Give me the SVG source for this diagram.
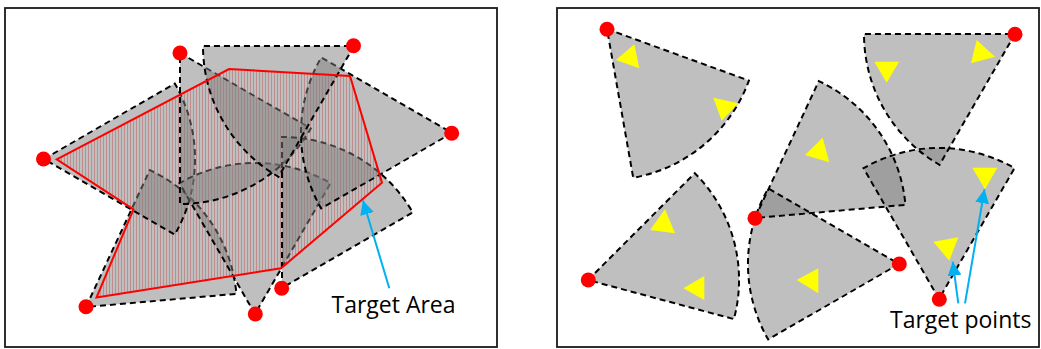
<svg xmlns="http://www.w3.org/2000/svg" width="1041" height="349" viewBox="0 0 1041 349">
<style>
.frame{fill:#fff;stroke:#1a1a1a;stroke-width:1.8}
.sec{fill:#7f7f7f;fill-opacity:0.5;stroke:#000;stroke-width:2;stroke-dasharray:6 4}
.fill{fill:#7f7f7f;fill-opacity:0.5;stroke:none}
.out{fill:none;stroke:#000;stroke-width:2;stroke-dasharray:6 4}
.dot{fill:#ff0000}
.tri{fill:#ffff00}
.arrow{fill:none;stroke:#00b0f0;stroke-width:2}
.lbl{font-family:"Open Sans","Noto Sans",sans-serif;font-size:23px;fill:#000}
</style>
<defs>
<pattern id="hatch" patternUnits="userSpaceOnUse" width="3" height="10">
<rect x="0" y="0" width="3" height="10" fill="#ffffff"/>
<rect x="1" y="0" width="1" height="10" fill="#ff9a9a"/>
</pattern>
<marker id="ah" markerUnits="userSpaceOnUse" markerWidth="16" markerHeight="14" refX="14" refY="7" orient="auto">
<path d="M0,0 L14,7 L0,14 Z" fill="#00b0f0"/>
</marker>
</defs>
<rect class="frame" x="5" y="8" width="492" height="339"/>
<rect class="frame" x="557" y="8" width="482" height="339"/>

<!-- left panel -->
<polygon id="target-area-fill" points="56.7,159.3 229,69 350,76 382,182.7 281,268.3 96.5,297.5 133.5,209.3" fill="url(#hatch)"/>
<g id="sector-E"><path class="sec" d="M86,307 L149.8,170.1 A151,151 0 0 1 236.4,293.8 Z"/></g>
<g id="sector-D"><path class="sec" d="M44,159 L174.8,83.5 A151,151 0 0 1 174.8,234.5 Z"/></g>
<g id="sector-F"><path class="sec" d="M255,314 L179.5,183.2 A151,151 0 0 1 330.5,183.2 Z"/></g>
<g id="sector-A"><path class="sec" d="M180,53 L310.8,128.5 A151,151 0 0 1 180,204 Z"/></g>
<g id="sector-G"><path class="sec" d="M282,288 L282,137 A151,151 0 0 1 412.8,212.5 Z"/></g>
<g id="sector-C"><path class="sec" d="M452,133 L321.2,208.5 A151,151 0 0 1 321.2,57.5 Z"/></g>
<g id="sector-B"><path class="sec" d="M354,46 L278.5,176.8 A151,151 0 0 1 203,46 Z"/></g>
<g id="target-area"><polygon points="56.7,159.3 229,69 350,76 382,182.7 281,268.3 96.5,297.5 133.5,209.3" fill="none" stroke="#ff0000" stroke-width="2" stroke-linejoin="miter"/></g>
<g id="left-dots">
<circle class="dot" cx="180" cy="53" r="7.5"/>
<circle class="dot" cx="353.5" cy="45.7" r="7.5"/>
<circle class="dot" cx="451.7" cy="133.3" r="7.5"/>
<circle class="dot" cx="43.5" cy="159" r="7.5"/>
<circle class="dot" cx="86" cy="306.7" r="7.5"/>
<circle class="dot" cx="255.3" cy="314" r="7.5"/>
<circle class="dot" cx="281.7" cy="288.3" r="7.5"/>
</g>

<!-- right panel -->
<g id="sector-R1"><path class="fill" d="M607,29 L748.9,80.6 A151,151 0 0 1 633.2,177.7 Z"/></g>
<g id="sector-R2"><path class="fill" d="M1015,34 L939.5,164.8 A151,151 0 0 1 864,34 Z"/></g>
<g id="sector-R4"><path class="fill" d="M588,280 L694.8,173.2 A151,151 0 0 1 733.9,319.1 Z"/></g>
<g id="sector-R3"><path class="fill" d="M899,264 L768.2,339.5 A151,151 0 0 1 768.2,188.5 Z"/></g>
<g id="sector-R5"><path class="fill" d="M755,218 L818.8,81.1 A151,151 0 0 1 905.4,204.8 Z"/></g>
<g id="sector-R6"><path class="fill" d="M939,299 L863.5,168.2 A151,151 0 0 1 1014.5,168.2 Z"/></g>
<g id="right-outlines">
<path class="out" d="M607,29 L748.9,80.6 A151,151 0 0 1 633.2,177.7 Z"/>
<path class="out" d="M1015,34 L939.5,164.8 A151,151 0 0 1 864,34 Z"/>
<path class="out" d="M588,280 L694.8,173.2 A151,151 0 0 1 733.9,319.1 Z"/>
<path class="out" d="M899,264 L768.2,339.5 A151,151 0 0 1 768.2,188.5 Z"/>
<path class="out" d="M755,218 L818.8,81.1 A151,151 0 0 1 905.4,204.8 Z"/>
<path class="out" d="M939,299 L863.5,168.2 A151,151 0 0 1 1014.5,168.2 Z"/>
</g>
<g id="targets">
<polygon class="tri" points="634.3,44.3 616,60 639.3,68.3"/>
<polygon class="tri" points="713.3,97.7 738.3,103.3 721.7,120.7"/>
<polygon class="tri" points="874.3,61.7 899,61.7 886.7,82.7"/>
<polygon class="tri" points="976.7,40 995,56.7 971,63.3"/>
<polygon class="tri" points="665,209.3 650,230 675,233.3"/>
<polygon class="tri" points="704.3,276 704.3,300 683.3,288.3"/>
<polygon class="tri" points="818.3,268.3 818.3,293.3 796.7,280"/>
<polygon class="tri" points="822.7,137.7 829.3,162.3 805,155"/>
<polygon class="tri" points="972.3,167.7 997.3,167.7 985,189.3"/>
<polygon class="tri" points="933.3,241.7 958.3,237.3 949.3,260.7"/>
</g>
<g id="right-dots">
<circle class="dot" cx="607" cy="29.3" r="7.5"/>
<circle class="dot" cx="1015" cy="34.3" r="7.5"/>
<circle class="dot" cx="588.3" cy="280" r="7.5"/>
<circle class="dot" cx="755" cy="218.3" r="7.5"/>
<circle class="dot" cx="899.3" cy="264" r="7.5"/>
<circle class="dot" cx="939.3" cy="299.3" r="7.5"/>
</g>

<g id="connectors">
<line class="arrow" x1="389.3" y1="288.3" x2="363" y2="200.5" marker-end="url(#ah)"/>
<line class="arrow" x1="958.3" y1="303.3" x2="952.7" y2="261.7" marker-end="url(#ah)"/>
<line class="arrow" x1="965" y1="303.3" x2="984.5" y2="189.3" marker-end="url(#ah)"/>
</g>
<g id="labels">
<text class="lbl" x="331.5" y="313.3">Target Area</text>
<text class="lbl" x="890" y="328.3">Target points</text>
</g>
</svg>
